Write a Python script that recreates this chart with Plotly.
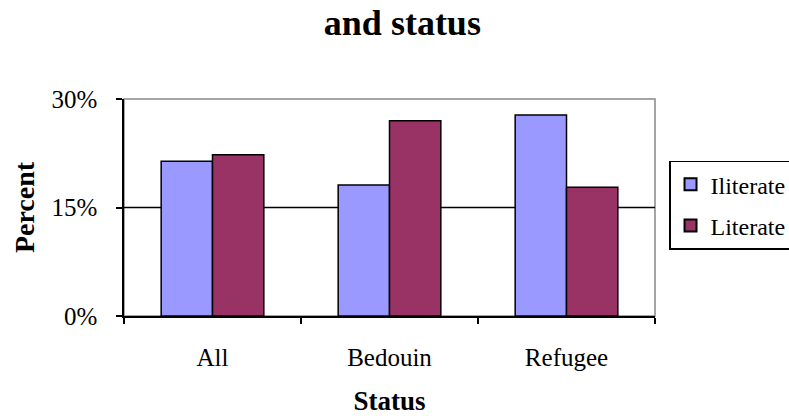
import plotly.graph_objects as go

categories = ["All", "Bedouin", "Refugee"]
iliterate = [21.4, 18.1, 27.8]
literate = [22.3, 27.0, 17.8]
y_ticks = [0, 15, 30]
y_tick_text = ["0%", "15%", "30%"]

serif = "Liberation Serif, Times New Roman, serif"

fig = go.Figure()
fig.add_trace(go.Bar(name="Iliterate", x=categories, y=iliterate, legendgroup="a",
                     marker=dict(color="#9999FF", line=dict(color="black", width=1.5))))
fig.add_trace(go.Bar(name="Literate", x=categories, y=literate, legendgroup="b",
                     marker=dict(color="#993366", line=dict(color="black", width=1.5))))

# plot-area frame (gray on top/right) and the 15% gridline
fig.add_shape(type="rect", xref="x domain", yref="y domain", x0=0, x1=1, y0=0, y1=1,
              line=dict(color="#888888", width=1.5), layer="below")
fig.add_shape(type="line", xref="x domain", yref="y", x0=0, x1=1, y0=15, y1=15,
              line=dict(color="black", width=1.5), layer="below")

fig.update_layout(
    width=789, height=416,
    margin=dict(l=124, r=134, t=99, b=100, autoexpand=False),
    paper_bgcolor="white", plot_bgcolor="white",
    barmode="group", bargap=0.42, bargroupgap=0,
    font=dict(family=serif, color="black", size=25),
    title=dict(text="<b>and status</b>", x=0.51, xanchor="center", y=0.945, yanchor="middle",
               font=dict(family=serif, size=36, color="black")),
    legend=dict(x=1.0264, xanchor="left", y=0.511, yanchor="middle",
                bordercolor="black", borderwidth=1.5, bgcolor="white",
                font=dict(family=serif, size=24, color="black"),
                tracegroupgap=7, itemwidth=30, itemsizing="constant"),
    showlegend=True,
)
fig.update_xaxes(
    type="category", showline=True, linecolor="black", linewidth=1.5,
    ticks="outside", tickson="boundaries", ticklen=6, tickwidth=1.5, tickcolor="black",
    tickfont=dict(family=serif, size=25), ticklabelstandoff=18,
    title=dict(text="<b>Status</b>", font=dict(family=serif, size=27), standoff=24),
    showgrid=False,
)
fig.update_yaxes(
    range=[0, 30], tickvals=y_ticks, ticktext=y_tick_text,
    showline=True, linecolor="black", linewidth=1.5,
    ticks="outside", ticklen=6, tickwidth=1.5, tickcolor="black",
    tickfont=dict(family=serif, size=25), ticklabelstandoff=14,
    title=dict(text="<b>Percent</b>", font=dict(family=serif, size=28), standoff=9),
    showgrid=False, zeroline=False,
)

fig.write_html("out.html")
